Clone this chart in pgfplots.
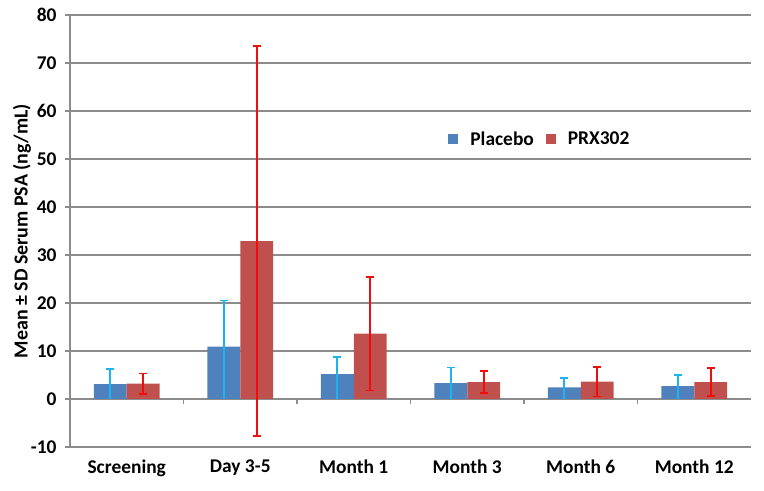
\documentclass[border=0pt]{standalone}
\usepackage{pgfplots}
\usepackage{pgfplotstable}
\pgfplotsset{compat=1.18}
\usepackage{fontspec}
\setmainfont{Carlito}
\definecolor{placebo}{HTML}{4F81BD}
\definecolor{prx}{HTML}{C0504D}
\definecolor{placeboerr}{HTML}{1CB4F0}
\definecolor{prxerr}{HTML}{F20D0D}
\definecolor{gridgray}{HTML}{8C8C8C}
\pgfplotstableread{
x pl plsd prx prxsd
0 3.1 3.2 3.2 2.15
1 10.9 9.6 32.9 40.6
2 5.2 3.5 13.6 11.8
3 3.3 3.3 3.5 2.3
4 2.4 2.0 3.6 3.1
5 2.7 2.3 3.5 2.9
}\data
\begin{document}
\begin{tikzpicture}
\begin{axis}[
  scale only axis,
  width=681bp, height=432bp,
  xmin=-0.5, xmax=5.5,
  ymin=-10, ymax=80,
  ytick={-10,0,...,80},
  xtick={0,1,2,3,4,5},
  xticklabels={Screening,Day 3-5,Month 1,Month 3,Month 6,Month 12},
  axis x line*=bottom,
  axis y line*=left,
  axis line style={gridgray, line width=1.3bp},
  x axis line style={draw=none},
  ymajorgrids,
  grid style={gridgray, line width=1.3bp},
  major y tick style={gridgray, line width=1.3bp},
  major x tick style={draw=none},
  tick align=outside,
  major tick length=5bp,
  /pgf/number format/assume math mode=true,
  tick label style={font=\bfseries\fontsize{19.5}{21}\selectfont, text=black},
  yticklabel style={xshift=-5bp},
  xticklabel style={yshift=-4bp},
  ylabel={Mean ± SD Serum PSA (ng/mL)},
  ylabel style={font=\bfseries\fontsize{20}{22}\selectfont, yshift=-7bp},
  legend style={at={(rel axis cs:0.69,0.713)}, anchor=center, draw=none, fill=none,
    font=\bfseries\fontsize{19.5}{21}\selectfont, column sep=10bp},
  legend columns=2,
  legend image code/.code={\fill[#1] (0bp,-5bp) rectangle (10bp,5bp);},
  clip=false,
]
\addplot[ybar, bar width=0.29, bar shift=-0.145, fill=placebo, draw=none]
  table[x=x, y=pl] {\data};
\addlegendentry{Placebo}
\addplot[ybar, bar width=0.29, bar shift=0.145, fill=prx, draw=none]
  table[x=x, y=prx] {\data};
\addlegendentry{PRX302}
% Placebo: SD line from the base of the bar, cap on top only
\addplot[forget plot, draw=none, mark=none,
  error bars/.cd, y dir=minus, y explicit,
  error bar style={placeboerr, line width=1.6bp}, error mark=none]
  table[x expr=\thisrow{x}-0.145, y=pl, y error=pl] {\data};
\addplot[forget plot, draw=none, mark=none,
  error bars/.cd, y dir=plus, y explicit,
  error bar style={placeboerr, line width=1.6bp},
  error mark options={placeboerr, line width=1.6bp, mark size=4bp, rotate=90}]
  table[x expr=\thisrow{x}-0.145, y=pl, y error=plsd] {\data};
% PRX302: +/- SD
\addplot[forget plot, draw=none, mark=none,
  error bars/.cd, y dir=both, y explicit,
  error bar style={prxerr, line width=1.6bp},
  error mark options={prxerr, line width=1.6bp, mark size=4bp, rotate=90}]
  table[x expr=\thisrow{x}+0.145, y=prx, y error=prxsd] {\data};
% category ticks on the zero line
\pgfplotsinvokeforeach{0.5,1.5,2.5,3.5,4.5}{
  \draw[gridgray, line width=1.3bp] (axis cs:#1,0) -- ([yshift=-5bp]axis cs:#1,0);
}
\end{axis}
\pgfresetboundingbox
\path[use as bounding box] ([shift={(-70bp,-44bp)}]current axis.south west) rectangle ([shift={(13bp,15bp)}]current axis.north east);
\end{tikzpicture}
\end{document}
